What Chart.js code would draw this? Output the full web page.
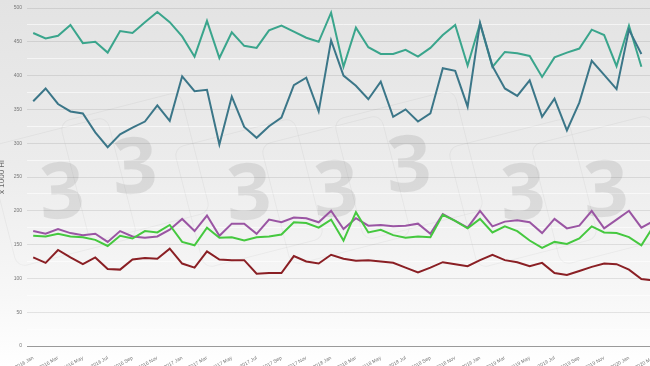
<!DOCTYPE html>
<html>
<head>
<meta charset="utf-8">
<script src="https://cdn.jsdelivr.net/npm/chart.js@4/dist/chart.umd.min.js"></script>
<style>
    html, body { margin: 0; padding: 0; }
    #wrap {
        width: 650px;
        height: 366px;
        overflow: hidden;
        position: relative;
        background: linear-gradient(to bottom, #e3e3e3 0%, #ececec 45%, #f7f7f7 80%, #ffffff 100%);
    }
    #myChart { position: absolute; left: -3px; top: 0; }
</style>
</head>
<body>
<div id="wrap">
    <canvas id="myChart" width="663" height="366"></canvas>
</div>
<script>
// Months on the x axis (the picture is cut off after 2020 Mar)
const months = [
    '2016 Jan', '2016 Feb', '2016 Mar', '2016 Apr', '2016 May', '2016 Jun', '2016 Jul', '2016 Aug', '2016 Sep', '2016 Oct', '2016 Nov', '2016 Dec',
    '2017 Jan', '2017 Feb', '2017 Mar', '2017 Apr', '2017 May', '2017 Jun', '2017 Jul', '2017 Aug', '2017 Sep', '2017 Oct', '2017 Nov', '2017 Dec',
    '2018 Jan', '2018 Feb', '2018 Mar', '2018 Apr', '2018 May', '2018 Jun', '2018 Jul', '2018 Aug', '2018 Sep', '2018 Oct', '2018 Nov', '2018 Dec',
    '2019 Jan', '2019 Feb', '2019 Mar', '2019 Apr', '2019 May', '2019 Jun', '2019 Jul', '2019 Aug', '2019 Sep', '2019 Oct', '2019 Nov', '2019 Dec',
    '2020 Jan', '2020 Feb', '2020 Mar'
];

// values in 1000 Hl
const seriesTop = [463, 455, 459, 475, 448, 450, 434, 466, 463, 479, 494, 479, 458, 428, 481, 426, 464, 444, 441, 467,
    474, 465, 456, 450, 493, 413, 471, 442, 432, 432, 438, 428, 441, 460, 475, 415, 477, 413, 435, 433,
    429, 398, 427, 434, 440, 468, 460, 414, 474, 413, null];
const seriesSecond = [362, 381, 358, 347, 344, 316, 294, 313, 323, 332, 356, 333, 399, 377, 379, 298, 369, 324, 308, 325,
    338, 386, 397, 347, 452, 400, 385, 365, 391, 339, 350, 332, 344, 411, 407, 354, 478, 414, 381, 370,
    393, 339, 366, 319, 360, 422, 401, 380, 468, 432, null];
const seriesPurple = [170, 166, 173, 167, 164, 166, 154, 170, 162, 160, 162, 172, 188, 170, 193, 163, 181, 181, 166, 187,
    183, 190, 189, 183, 200, 173, 189, 178, 179, 177, 178, 181, 166, 195, 185, 175, 200, 177, 184, 186,
    183, 167, 188, 174, 178, 200, 174, 187, 200, 175, 185];
const seriesGreen = [163, 162, 166, 162, 161, 157, 148, 163, 159, 170, 168, 179, 154, 149, 175, 160, 161, 156, 161, 162,
    165, 183, 182, 175, 187, 156, 198, 168, 172, 164, 160, 162, 161, 194, 185, 174, 188, 168, 177, 170,
    156, 145, 154, 151, 159, 177, 168, 167, 161, 149, 178];
const seriesRed = [131, 123, 142, 131, 121, 131, 114, 113, 128, 130, 129, 144, 122, 116, 140, 128, 127, 127, 107, 108,
    108, 133, 125, 122, 135, 129, 126, 127, 125, 123, 116, 109, 116, 124, 121, 118, 127, 135, 127, 124,
    118, 123, 108, 105, 111, 117, 122, 121, 113, 99, 97];

const yTicks = [0, 50, 100, 150, 200, 250, 300, 350, 400, 450, 500];

// big grey "3" logos in the background
const watermark = {
    id: 'watermark',
    beforeDatasetsDraw(chart) {
        const ctx = chart.ctx;
        const spots = [[65, 192], [138, 167], [252, 193], [339, 190], [412, 165], [526, 193], [609, 190]];
        ctx.save();
        spots.forEach(function (p) {
            ctx.save();
            ctx.translate(p[0], p[1]);
            ctx.rotate(-0.25);
            ctx.strokeStyle = 'rgba(0,0,0,0.04)';
            ctx.lineWidth = 1;
            ctx.beginPath();
            ctx.roundRect(-62, -62, 124, 124, 10);
            ctx.stroke();
            ctx.rotate(0.2);
            ctx.fillStyle = 'rgba(0,0,0,0.085)';
            ctx.font = 'bold 78px "Open Sans"';
            ctx.textAlign = 'center';
            ctx.textBaseline = 'middle';
            ctx.fillText('3', 0, 4);
            ctx.restore();
        });
        ctx.restore();
    }
};

function line(data, color) {
    return {
        data: data,
        borderColor: color,
        borderWidth: 2,
        pointRadius: 0,
        tension: 0,
        fill: false,
        spanGaps: false
    };
}

var ctx = document.getElementById('myChart').getContext('2d');
var myChart = new Chart(ctx, {
    type: 'line',
    data: {
        labels: months,
        datasets: [
            line(seriesRed, '#8a1f24'),
            line(seriesGreen, '#45c83f'),
            line(seriesPurple, '#9a55a3'),
            line(seriesSecond, '#3b7688'),
            line(seriesTop, '#3aa58c')
        ]
    },
    options: {
        responsive: false,
        animation: false,
        layout: { padding: { top: 5, right: 0, bottom: 0, left: 0 } },
        plugins: {
            legend: { display: false },
            tooltip: { enabled: false }
        },
        scales: {
            x: {
                offset: true,
                grid: { display: false },
                border: { display: true, color: '#9a9a9a', width: 1 },
                ticks: {
                    autoSkip: false,
                    maxRotation: 30,
                    minRotation: 30,
                    padding: 1,
                    color: '#777',
                    font: { family: 'Arial, "Liberation Sans"', size: 5 },
                    callback: function (v, i) { return i % 2 === 0 ? months[i] : ''; }
                },
                afterFit: function (scale) { scale.height = 20; }
            },
            y: {
                min: 0,
                max: 500,
                grid: {
                    color: function (c) {
                        return c.tick && yTicks.includes(c.tick.value) ? 'rgba(0,0,0,0.09)' : 'rgba(255,255,255,0.6)';
                    },
                    lineWidth: 1,
                    drawTicks: false
                },
                border: { display: false },
                ticks: {
                    stepSize: 25,
                    padding: 5,
                    color: '#777',
                    font: { family: 'Arial, "Liberation Sans"', size: 5 },
                    callback: function (v) { return yTicks.includes(v) ? v : ''; }
                },
                title: {
                    display: true,
                    text: 'x 1000 Hl',
                    color: '#666',
                    padding: 0,
                    font: { family: 'Arial, "Liberation Sans"', size: 8 }
                },
                afterFit: function (scale) { scale.width = 30; }
            }
        }
    },
    plugins: [watermark]
});
</script>
</body>
</html>
